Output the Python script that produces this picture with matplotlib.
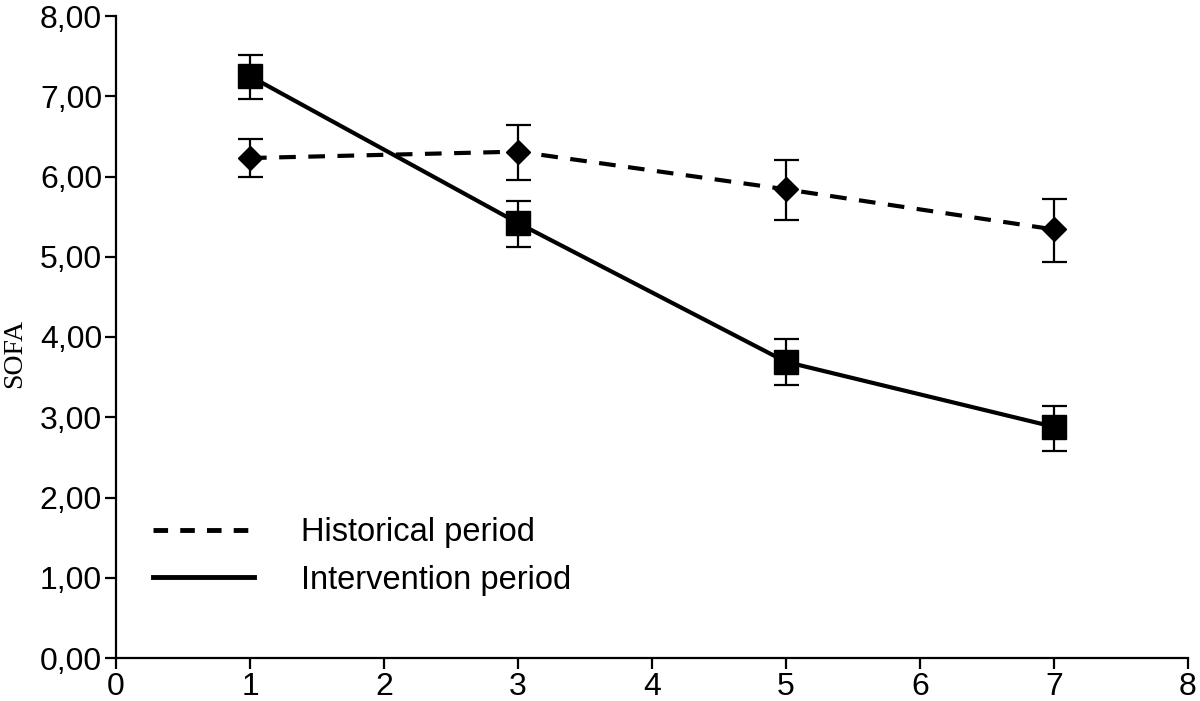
import matplotlib
matplotlib.use("Agg")
import matplotlib.pyplot as plt
from matplotlib.lines import Line2D
from matplotlib.ticker import FuncFormatter

days = [1, 3, 5, 7]
hist_mean = [6.23, 6.31, 5.84, 5.34]
hist_low = [5.99, 5.96, 5.46, 4.93]
hist_high = [6.47, 6.64, 6.20, 5.72]
int_mean = [7.25, 5.42, 3.69, 2.88]
int_low = [6.96, 5.12, 3.40, 2.58]
int_high = [7.51, 5.70, 3.97, 3.14]
x_ticks = [0, 1, 2, 3, 4, 5, 6, 7, 8]
y_ticks = [0, 1, 2, 3, 4, 5, 6, 7, 8]

plt.rcParams['font.family'] = ['Liberation Sans', 'DejaVu Sans']

fig = plt.figure(figsize=(12, 7.01), dpi=100)
ax = fig.add_axes([116/1200, 43/701, (1188-116)/1200, (658-16)/701])

def err(mean, low, high):
    return [[m - l for m, l in zip(mean, low)], [h - m for m, h in zip(mean, high)]]

ax.errorbar(days, hist_mean, yerr=err(hist_mean, hist_low, hist_high), color='black',
            linestyle=(0, (4, 3)), linewidth=3, marker='D', markersize=12,
            elinewidth=1.6, capsize=9, capthick=1.6, zorder=3)
ax.errorbar(days, int_mean, yerr=err(int_mean, int_low, int_high), color='black',
            linestyle='-', linewidth=3, marker='s', markersize=17,
            elinewidth=1.6, capsize=9, capthick=1.6, zorder=3)

ax.set_xlim(0, 8)
ax.set_ylim(0, 8)
ax.set_xticks(x_ticks)
ax.set_yticks(y_ticks)
ax.yaxis.set_major_formatter(FuncFormatter(lambda v, p: f"{v:.2f}".replace('.', ',')))
for s in ['top', 'right']:
    ax.spines[s].set_visible(False)
for s in ['left', 'bottom']:
    ax.spines[s].set_linewidth(1.6)
ax.tick_params(direction='out', length=8, width=1.6, labelsize=23, pad=2)

ax.set_ylabel('SOFA', family=['Liberation Serif', 'DejaVu Serif'], fontsize=20, labelpad=2)
ax.yaxis.set_label_coords(-0.083, 0.475)

handles = [Line2D([0], [0], color='black', linestyle=(0, (3, 2.5)), linewidth=3.5),
           Line2D([0], [0], color='black', linestyle='-', linewidth=3.5)]
ax.legend(handles, ['Historical period', 'Intervention period'], loc='upper left',
          bbox_to_anchor=(0.007, 0.265), frameon=False, fontsize=23.5,
          handlelength=3.1, handletextpad=1.45, labelspacing=0.5)

fig.savefig('out.png', dpi=100)
